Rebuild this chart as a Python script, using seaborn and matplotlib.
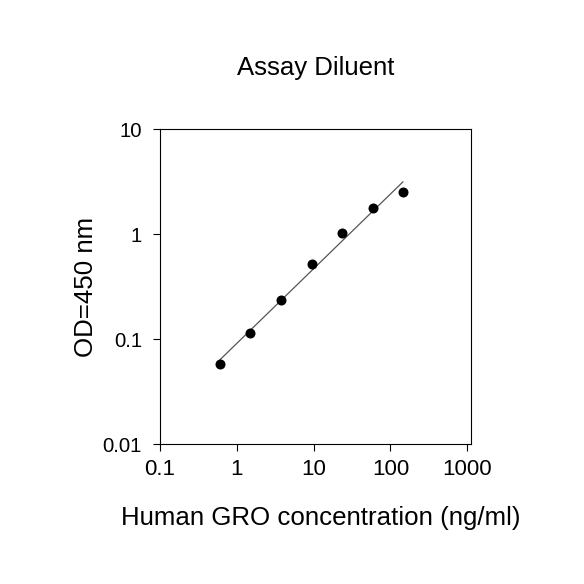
import numpy as np
import pandas as pd
import matplotlib
matplotlib.use("Agg")
import matplotlib.pyplot as plt
import seaborn as sns

# ── Data ─────────────────────────────────────────────────────────────────────
conc = [0.6, 1.5, 3.8, 9.4, 23.5, 59, 146]          # ng/ml
od450 = [0.058, 0.114, 0.233, 0.52, 1.02, 1.77, 2.49]
x_ticks = [0.1, 1, 10, 100, 1000]
x_tick_labels = ["0.1", "1", "10", "100", "1000"]
y_ticks = [0.01, 0.1, 1, 10]
y_tick_labels = ["0.01", "0.1", "1", "10"]

df = pd.DataFrame({"conc": conc, "od": od450})

# log-log linear fit, drawn across the measured range
slope, intercept = np.polyfit(np.log10(df["conc"]), np.log10(df["od"]), 1)
fit = pd.DataFrame({"conc": [df["conc"].min(), df["conc"].max()]})
fit["od"] = 10 ** (intercept + slope * np.log10(fit["conc"]))

# ── Plot ─────────────────────────────────────────────────────────────────────
sns.set_style("ticks", {"text.color": "black", "axes.labelcolor": "black",
                        "xtick.color": "black", "ytick.color": "black"})
plt.rcParams["font.family"] = ["Liberation Sans", "DejaVu Sans"]

fig = plt.figure(figsize=(5.84, 5.84), dpi=100)
ax = fig.add_axes([0.274, 0.2397, 0.5325, 0.5393])

sns.lineplot(data=fit, x="conc", y="od", color="#555555", lw=0.9, ax=ax)
sns.scatterplot(data=df, x="conc", y="od", color="black", s=52,
                edgecolor="black", linewidth=0, zorder=3, ax=ax)

ax.set_xscale("log")
ax.set_yscale("log")
ax.set_xlim(0.1, 1120)
ax.set_ylim(0.01, 10)
ax.set_xticks(x_ticks)
ax.set_xticklabels(x_tick_labels)
ax.set_yticks(y_ticks)
ax.set_yticklabels(y_tick_labels)
ax.minorticks_off()
ax.tick_params(axis="x", labelsize=16, length=5, width=0.8, pad=6,
               color="black", labelcolor="black")
ax.tick_params(axis="y", labelsize=14.7, length=5, width=0.8, pad=8,
               color="black", labelcolor="black")

for side in ["left", "right", "top", "bottom"]:
    ax.spines[side].set_visible(True)
    ax.spines[side].set_color("black")
    ax.spines[side].set_linewidth(0.8)

ax.set_xlabel("Human GRO concentration (ng/ml)", fontsize=18.6, color="black")
ax.set_ylabel("OD=450 nm", fontsize=18.6, labelpad=3, color="black")
ax.xaxis.set_label_coords(0.518, -0.197)
ax.set_title("Assay Diluent", fontsize=18.5, pad=39, color="black")

fig.savefig("out.png", dpi=100, facecolor="white")
